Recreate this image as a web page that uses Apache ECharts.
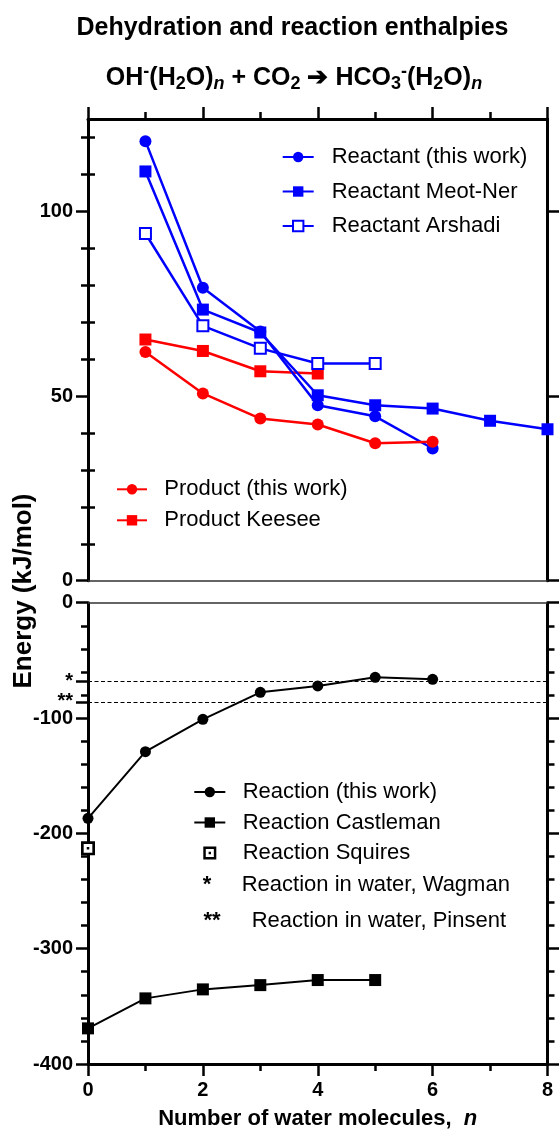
<!DOCTYPE html>
<html><head><meta charset="utf-8">
<script src="https://cdn.jsdelivr.net/npm/echarts@6/dist/echarts.min.js"></script>
<style>html,body{margin:0;padding:0;background:#fff}#c{width:559px;height:1131px}</style>
</head><body><div id="c"></div>
<script>
const FONT = '"Liberation Sans", Arial, Helvetica, sans-serif';
// ---- data ----
const nReactantThisWork = [1, 2, 3, 4, 5, 6];
const reactantThisWork = [119.0, 79.3, 67.5, 47.5, 44.5, 35.8];
const nMeotNer = [1, 2, 3, 4, 5, 6, 7, 8];
const reactantMeotNer = [110.8, 73.4, 67.2, 50.2, 47.5, 46.6, 43.3, 41.0];
const nArshadi = [1, 2, 3, 4, 5];
const reactantArshadi = [94.0, 69.0, 62.9, 58.8, 58.8];
const nProductThisWork = [1, 2, 3, 4, 5, 6];
const productThisWork = [61.9, 50.7, 43.9, 42.3, 37.2, 37.6];
const nKeesee = [1, 2, 3, 4];
const productKeesee = [65.3, 62.2, 56.7, 56.1];
const nReaction = [0, 1, 2, 3, 4, 5, 6];
const reactionThisWork = [-187.0, -129.2, -101.1, -77.7, -72.2, -64.7, -66.4];
const nCastleman = [0, 1, 2, 3, 4, 5];
const reactionCastleman = [-369.1, -343.1, -335.3, -331.6, -327.2, -327.2];
const nSquires = [0];
const reactionSquires = [-213.0];
const waterWagman = -67.9;
const waterPinsent = -85.9;
const topMajorTicks = [0, 50, 100];
const topMinorTicks = [10, 20, 30, 40, 60, 70, 80, 90, 110, 120];
const starTicks = [waterWagman, waterPinsent];
const starLabels = ['*', '**'];

const pair = (xs, ys) => xs.map((x, i) => [x, ys[i]]);
const BLUE = '#0000ff', RED = '#ff0000', BLACK = '#000000';

const lbl = { fontSize: 20, fontWeight: 'bold', color: '#000', fontFamily: FONT };
const axLine = { show: true, onZero: false, lineStyle: { color: '#000', width: 3 } };
const thinLine = { show: true, onZero: false, lineStyle: { color: '#333', width: 1.5 } };
const tickStyle = { color: '#000', width: 2.5 };

function yAx(o) {
  return Object.assign({ type: 'value', splitLine: { show: false }, axisLabel: { show: false },
    axisTick: { show: false }, axisLine: { show: false } }, o);
}

const option = {
  animation: false,
  backgroundColor: '#fff',
  grid: [
    { left: 88, right: 11.5, top: 119, height: 461.7 },
    { left: 88, right: 11.5, top: 602.7, height: 461.3 }
  ],
  xAxis: [
    { gridIndex: 0, type: 'value', min: 0, max: 8, interval: 2, position: 'top', axisLine: axLine,
      axisTick: { show: true, length: 12, lineStyle: tickStyle },
      minorTick: { show: true, splitNumber: 2, length: 7, lineStyle: tickStyle },
      axisLabel: { show: false }, splitLine: { show: false } },
    { gridIndex: 0, type: 'value', min: 0, max: 8, position: 'bottom', axisLine: thinLine,
      axisTick: { show: false }, axisLabel: { show: false }, splitLine: { show: false } },
    { gridIndex: 1, type: 'value', min: 0, max: 8, interval: 2, position: 'bottom', axisLine: axLine,
      axisTick: { show: true, length: 12, lineStyle: tickStyle },
      minorTick: { show: true, splitNumber: 2, length: 7, lineStyle: tickStyle },
      axisLabel: Object.assign({ margin: 16 }, lbl), splitLine: { show: false },
      name: '{a|Number of water molecules,  }{i|n}', nameLocation: 'middle', nameGap: 44,
      nameTextStyle: { rich: {
        a: { fontSize: 22, fontWeight: 'bold', fontFamily: FONT, color: '#000' },
        i: { fontSize: 22, fontWeight: 'bold', fontStyle: 'italic', fontFamily: FONT, color: '#000' } } } },
    { gridIndex: 1, type: 'value', min: 0, max: 8, position: 'top', axisLine: thinLine,
      axisTick: { show: false }, axisLabel: { show: false }, splitLine: { show: false } }
  ],
  yAxis: [
    yAx({ gridIndex: 0, min: 0, max: 125, position: 'left', axisLine: axLine,
      axisTick: { show: true, length: 12, customValues: topMajorTicks, lineStyle: tickStyle },
      axisLabel: Object.assign({ show: true, margin: 15, customValues: topMajorTicks }, lbl) }),
    yAx({ gridIndex: 0, min: 0, max: 125, position: 'left',
      axisTick: { show: true, length: 7, customValues: topMinorTicks, lineStyle: tickStyle } }),
    yAx({ gridIndex: 0, min: 0, max: 125, position: 'right', axisLine: axLine,
      axisTick: { show: true, length: 12, customValues: topMajorTicks, lineStyle: tickStyle } }),
    yAx({ gridIndex: 0, min: 0, max: 125, position: 'right',
      axisTick: { show: true, length: 7, customValues: topMinorTicks, lineStyle: tickStyle } }),
    yAx({ gridIndex: 1, min: -400, max: 0, interval: 100, position: 'left', axisLine: axLine,
      axisTick: { show: true, length: 12, lineStyle: tickStyle },
      minorTick: { show: true, splitNumber: 5, length: 7, lineStyle: tickStyle },
      axisLabel: Object.assign({ show: true, margin: 15 }, lbl) }),
    yAx({ gridIndex: 1, min: -400, max: 0, interval: 100, position: 'right', axisLine: axLine,
      axisTick: { show: true, length: 12, lineStyle: tickStyle },
      minorTick: { show: true, splitNumber: 5, length: 7, lineStyle: tickStyle } }),
    yAx({ gridIndex: 1, min: -400, max: 0, position: 'left',
      axisTick: { show: true, length: 12, customValues: starTicks, lineStyle: tickStyle },
      axisLabel: Object.assign({ show: true, margin: 15, customValues: starTicks,
        formatter: v => starLabels[starTicks.findIndex(t => Math.abs(t - v) < 1e-6)] || '' }, lbl) })
  ],
  legend: [
    { data: ['Reactant (this work)', 'Reactant Meot-Ner', 'Reactant Arshadi'], orient: 'vertical',
      left: 281.7, top: 145, padding: 0, itemWidth: 31, itemHeight: 13, itemGap: 10.5, selectedMode: false,
      textStyle: { fontSize: 22, fontFamily: FONT, color: '#000', lineHeight: 24, padding: [0, 0, 0, 13] } },
    { data: ['Product (this work)', 'Product Keesee'], orient: 'vertical',
      left: 116, top: 477.3, padding: 0, itemWidth: 30, itemHeight: 13, itemGap: 7, selectedMode: false,
      textStyle: { fontSize: 22, fontFamily: FONT, color: '#000', lineHeight: 24, padding: [0, 0, 0, 12.3] } },
    { data: ['Reaction (this work)', 'Reaction Castleman', 'Reaction Squires'], orient: 'vertical',
      left: 193.3, top: 780, padding: 0, itemWidth: 31, itemHeight: 13, itemGap: 6.5, selectedMode: false,
      textStyle: { fontSize: 22, fontFamily: FONT, color: '#000', lineHeight: 24, padding: [0, 0, 0, 12.4] } }
  ],
  graphic: [
    { type: 'text', x: 292.5, y: 28, style: { text: 'Dehydration and reaction enthalpies', fontSize: 25,
      fontWeight: 'bold', fontFamily: FONT, fill: '#000', align: 'center', verticalAlign: 'middle' } },
    { type: 'text', x: 294, y: 78, style: {
      text: '{b|OH}{sup|-}{b|(H}{sub|2}{b|O)}{subi|n}{b| + CO}{sub|2}{b| ➔ HCO}{sub|3}{sup|-}{b|(H}{sub|2}{b|O)}{subi|n}',
      align: 'center', verticalAlign: 'middle', fill: '#000',
      rich: {
        b: { fontSize: 25, fontWeight: 'bold', fontFamily: FONT, fill: '#000', lineHeight: 30, verticalAlign: 'middle' },
        sub: { fontSize: 18, fontWeight: 'bold', fontFamily: FONT, fill: '#000', lineHeight: 12, verticalAlign: 'bottom' },
        subi: { fontSize: 18, fontWeight: 'bold', fontStyle: 'italic', fontFamily: FONT, fill: '#000', lineHeight: 12, verticalAlign: 'bottom' },
        sup: { fontSize: 18, fontWeight: 'bold', fontFamily: FONT, fill: '#000', lineHeight: 10, verticalAlign: 'top' }
      } } },
    { type: 'text', x: 24, y: 591, rotation: Math.PI / 2, style: { text: 'Energy (kJ/mol)', fontSize: 26,
      fontWeight: 'bold', fontFamily: FONT, fill: '#000', align: 'center', verticalAlign: 'middle' } },
    { type: 'text', x: 207, y: 885, style: { text: '*', fontSize: 22, fontWeight: 'bold', fontFamily: FONT, fill: '#000', align: 'center', verticalAlign: 'middle' } },
    { type: 'text', x: 241.7, y: 885, style: { text: 'Reaction in water, Wagman', fontSize: 22, fontFamily: FONT, fill: '#000', align: 'left', verticalAlign: 'middle' } },
    { type: 'text', x: 212, y: 920.7, style: { text: '**', fontSize: 22, fontWeight: 'bold', fontFamily: FONT, fill: '#000', align: 'center', verticalAlign: 'middle' } },
    { type: 'text', x: 251.7, y: 920.7, style: { text: 'Reaction in water, Pinsent', fontSize: 22, fontFamily: FONT, fill: '#000', align: 'left', verticalAlign: 'middle' } }
  ],
  series: [
    { name: 'Product Keesee', type: 'line', xAxisIndex: 0, yAxisIndex: 0, data: pair(nKeesee, productKeesee),
      symbol: 'rect', symbolSize: 12, lineStyle: { color: RED, width: 2.5 }, itemStyle: { color: RED } },
    { name: 'Reactant (this work)', type: 'line', xAxisIndex: 0, yAxisIndex: 0, data: pair(nReactantThisWork, reactantThisWork),
      symbol: 'circle', symbolSize: 12, lineStyle: { color: BLUE, width: 2.5 }, itemStyle: { color: BLUE } },
    { name: 'Reactant Meot-Ner', type: 'line', xAxisIndex: 0, yAxisIndex: 0, data: pair(nMeotNer, reactantMeotNer),
      symbol: 'rect', symbolSize: 12, lineStyle: { color: BLUE, width: 2.5 }, itemStyle: { color: BLUE } },
    { name: 'Reactant Arshadi', type: 'line', xAxisIndex: 0, yAxisIndex: 0, data: pair(nArshadi, reactantArshadi),
      symbol: 'rect', symbolSize: 11, lineStyle: { color: BLUE, width: 2.5 },
      itemStyle: { color: '#fff', borderColor: BLUE, borderWidth: 2 } },
    { name: 'Product (this work)', type: 'line', xAxisIndex: 0, yAxisIndex: 0, data: pair(nProductThisWork, productThisWork),
      symbol: 'circle', symbolSize: 12, lineStyle: { color: RED, width: 2.5 }, itemStyle: { color: RED } },

    { name: 'Reaction (this work)', type: 'line', xAxisIndex: 2, yAxisIndex: 4, data: pair(nReaction, reactionThisWork),
      symbol: 'circle', symbolSize: 11, lineStyle: { color: BLACK, width: 2 }, itemStyle: { color: BLACK } },
    { name: 'Reaction Castleman', type: 'line', xAxisIndex: 2, yAxisIndex: 4, data: pair(nCastleman, reactionCastleman),
      symbol: 'rect', symbolSize: 12, lineStyle: { color: BLACK, width: 2 }, itemStyle: { color: BLACK },
      markLine: { silent: true, symbol: ['none', 'none'], label: { show: false },
        lineStyle: { type: [4, 2.5], width: 1, color: '#000' },
        emphasis: { disabled: true },
        data: [{ yAxis: waterWagman }, { yAxis: waterPinsent }] } },
    { name: 'squiresBackground', type: 'scatter', xAxisIndex: 2, yAxisIndex: 4, data: pair(nSquires, reactionSquires),
      symbol: 'rect', symbolSize: 12, itemStyle: { color: '#fff', opacity: 1 }, silent: true },
    { name: 'Reaction Squires', type: 'scatter', xAxisIndex: 2, yAxisIndex: 4, data: pair(nSquires, reactionSquires),
      symbol: 'path://M0,0L10,0L10,10L0,10Z M1.9,1.9L1.9,8.1L8.1,8.1L8.1,1.9Z M4.1,4.1L5.9,4.1L5.9,5.9L4.1,5.9Z',
      symbolSize: 14, symbolKeepAspect: true, itemStyle: { color: BLACK, opacity: 1 } }
  ]
};
const chart = echarts.init(document.getElementById('c'), null, { renderer: 'canvas' });
chart.setOption(option);
</script></body></html>
